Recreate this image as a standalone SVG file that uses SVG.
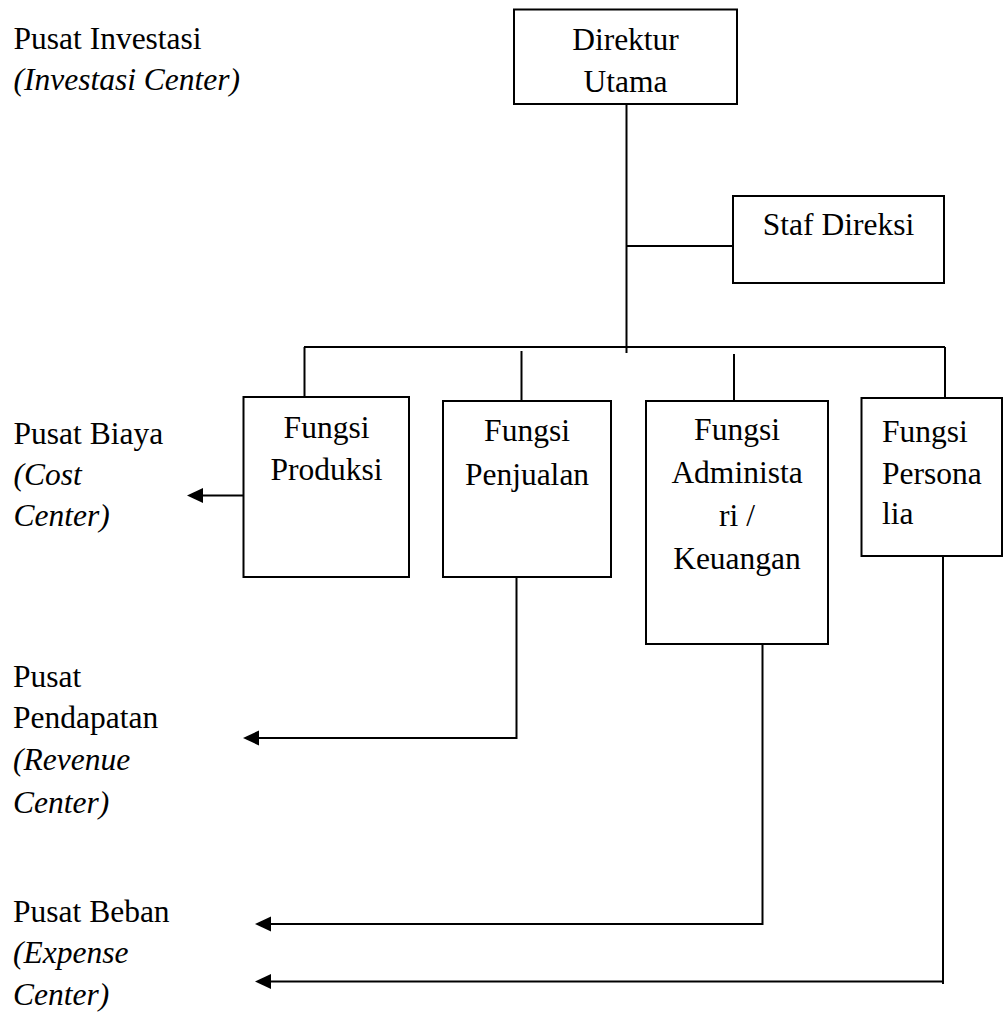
<svg xmlns="http://www.w3.org/2000/svg" width="1003" height="1014" viewBox="0 0 1003 1014">
<style>
text{font-family:"Liberation Serif","Times New Roman",serif;font-size:31.5px;fill:#000}
.it{font-style:italic}
.box{fill:#fff;stroke:#000;stroke-width:2}
.ln{fill:none;stroke:#000;stroke-width:2}
.c{text-anchor:middle}
</style>
<defs>
<marker id="ah" markerWidth="16" markerHeight="16" refX="8" refY="8" orient="auto" markerUnits="userSpaceOnUse">
<path d="M16,8 L0,0.5 L0,15.5 Z" fill="#000"/>
</marker>
</defs>
<g id="labels">
<text x="13.5" y="49">Pusat Investasi</text>
<text x="13.5" y="90" class="it">(Investasi Center)</text>
<text x="13.5" y="444">Pusat Biaya</text>
<text x="13.5" y="485" class="it">(Cost</text>
<text x="13.5" y="526" class="it">Center)</text>
<text x="13" y="687">Pusat</text>
<text x="13" y="728">Pendapatan</text>
<text x="13" y="770" class="it">(Revenue</text>
<text x="13" y="813" class="it">Center)</text>
<text x="13" y="922">Pusat Beban</text>
<text x="13" y="963" class="it">(Expense</text>
<text x="13" y="1005" class="it">Center)</text>
</g>
<g id="connectors">
<line class="ln" x1="626.5" y1="104" x2="626.5" y2="353"/>
<line class="ln" x1="626.5" y1="246" x2="737" y2="246"/>
<line class="ln" x1="304" y1="347" x2="945" y2="347"/>
<line class="ln" x1="304.5" y1="347" x2="304.5" y2="397"/>
<line class="ln" x1="521.5" y1="351" x2="521.5" y2="401"/>
<line class="ln" x1="734" y1="354" x2="734" y2="401"/>
<line class="ln" x1="945" y1="347" x2="945" y2="398"/>
<path class="ln" d="M243,495.5 H195" marker-end="url(#ah)"/>
<path class="ln" d="M516.5,577 V738 H251" marker-end="url(#ah)"/>
<path class="ln" d="M762.5,644 V924 H263" marker-end="url(#ah)"/>
<line class="ln" x1="943" y1="556" x2="943" y2="984"/>
<path class="ln" d="M943,981.5 H263" marker-end="url(#ah)"/>
</g>
<g id="direktur-utama">
<rect class="box" x="514" y="9.5" width="223" height="94.5"/>
<text class="c" x="625.5" y="50">Direktur</text>
<text class="c" x="625.5" y="92">Utama</text>
</g>
<g id="staf-direksi">
<rect class="box" x="733" y="196" width="211" height="87"/>
<text class="c" x="838.5" y="235">Staf Direksi</text>
</g>
<g id="fungsi-produksi">
<rect class="box" x="243.5" y="397" width="165.5" height="180"/>
<text class="c" x="326.5" y="438">Fungsi</text>
<text class="c" x="326.5" y="480">Produksi</text>
</g>
<g id="fungsi-penjualan">
<rect class="box" x="443" y="401" width="168" height="176"/>
<text class="c" x="527" y="441">Fungsi</text>
<text class="c" x="527" y="485">Penjualan</text>
</g>
<g id="fungsi-administrasi">
<rect class="box" x="646" y="401" width="182" height="243"/>
<text class="c" x="737" y="440">Fungsi</text>
<text class="c" x="737" y="483">Administa</text>
<text class="c" x="737" y="526">ri /</text>
<text class="c" x="737" y="569">Keuangan</text>
</g>
<g id="fungsi-personalia">
<rect class="box" x="861.5" y="398" width="140.5" height="158"/>
<text x="882" y="442">Fungsi</text>
<text x="882" y="484">Persona</text>
<text x="882" y="524">lia</text>
</g>
</svg>
